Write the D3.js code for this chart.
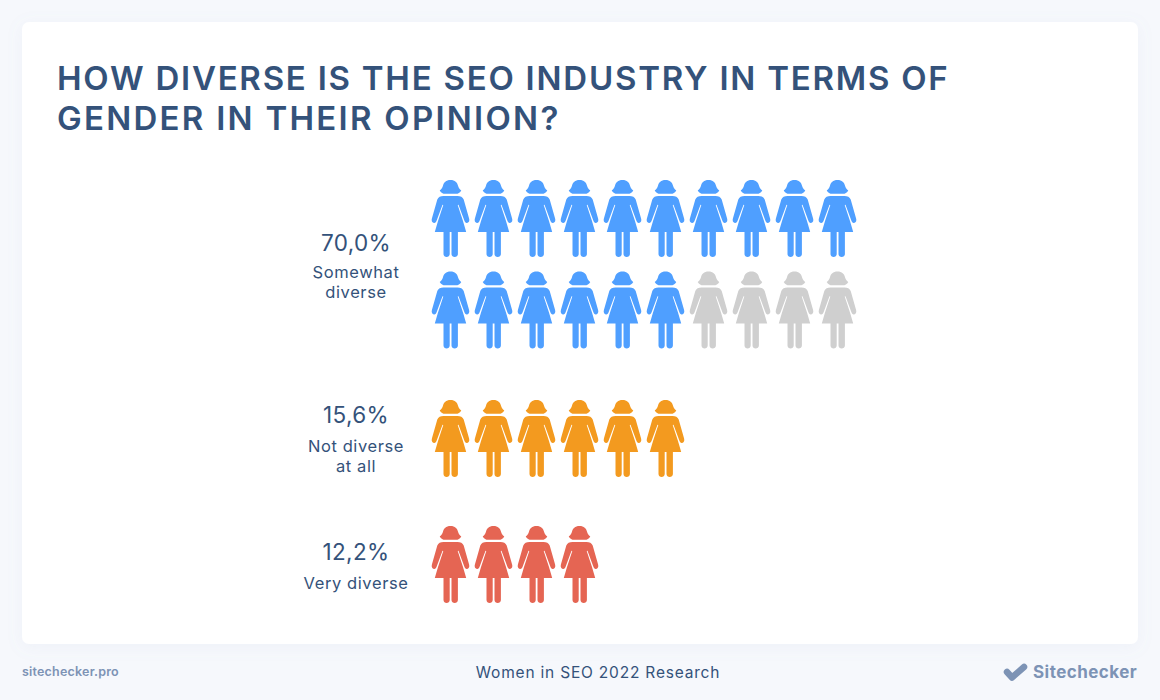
<!DOCTYPE html>
<html>
<head>
<meta charset="utf-8">
<script src="https://cdn.jsdelivr.net/npm/d3@7"></script>
<style>
	html, body { margin: 0; padding: 0; background: #f6f8fc; }
	svg { display: block; font-family: Inter, "Noto Sans", sans-serif; }
	.label { fill: #34527a; text-anchor: middle; }
</style>
</head>
<body>
<svg id="chart" width="1160" height="700"></svg>
<script>
(function () {
	//VARIABLE DECLARATION
	var svg, groups, iconPath, x, icons;
	//VARIABLE INSTANTIATION
	groups = [
		{ value: "70,0%", lines: ["Somewhat", "diverse"], filled: 16, total: 20, color: "#4f9fff", top: 180, valueY: 251, lineY: 278 },
		{ value: "15,6%", lines: ["Not diverse", "at all"], filled: 6, total: 6, color: "#f39a1f", top: 400, valueY: 423, lineY: 452 },
		{ value: "12,2%", lines: ["Very diverse"], filled: 4, total: 4, color: "#e56553", top: 526, valueY: 560, lineY: 589 }
	];
	// woman glyph, origin at top centre of the hat
	iconPath = "M0,0 C4.5,0 6.8,2.5 7.6,6 C8.2,8.4 9.6,9.4 10.8,10.4 C9.5,12.6 7.5,13.8 5.5,13.8 L-5.5,13.8 C-7.5,13.8 -9.5,12.6 -10.8,10.4 " +
		"C-9.6,9.4 -8.2,8.4 -7.6,6 C-6.8,2.5 -4.5,0 0,0 Z " +
		"M-7,16 L7,16 C10,16 12.2,17 13.2,19.5 L18.6,38.5 C19.3,41 18.2,42.6 16.6,42.9 C15.2,43.1 14.3,42.2 13.9,40.8 L8,24.8 " +
		"L7.2,25.1 L12.5,41 L15.7,52 L7.4,52 L7.4,74 C7.4,78 1,78 1,74 L1,52 L-0.8,52 L-0.8,74 C-0.8,78 -7,78 -7,74 L-7,52 L-15.7,52 " +
		"L-12.5,41 L-7.2,25.1 L-8,24.8 L-13.9,40.8 C-14.3,42.2 -15.2,43.1 -16.6,42.9 C-18.2,42.6 -19.3,41 -18.6,38.5 " +
		"L-13.2,19.5 C-12.2,17 -10,16 -7,16 Z";

	svg = d3.select("#chart");
	x = d3.scalePoint().domain(d3.range(10)).range([450.5, 837.5]);

	drawCard();
	drawTitle();
	drawGroups();
	drawFooter();

	function drawCard() {
		var defs = svg.append("defs");
		var f = defs.append("filter").attr("id", "soft").attr("x", "-5%").attr("y", "-5%").attr("width", "110%").attr("height", "110%");
		f.append("feDropShadow").attr("dx", 0).attr("dy", 3).attr("stdDeviation", 8)
			.attr("flood-color", "#8a9cc0").attr("flood-opacity", 0.08);
		svg.append("rect").attr("x", 22).attr("y", 22).attr("width", 1116).attr("height", 622)
			.attr("rx", 7).attr("fill", "#fff").attr("filter", "url(#soft)");
	}
	function drawTitle() {
		svg.selectAll(".title")
			.data(["HOW DIVERSE IS THE SEO INDUSTRY IN TERMS OF", "GENDER IN THEIR OPINION?"]).enter()
			.append("text")
			.attr("class", "title")
			.attr("x", 57)
			.attr("y", function (d, i) { return 90 + 40 * i })
			.attr("fill", "#34527a")
			.attr("font-size", 33)
			.attr("font-weight", 600)
			.attr("letter-spacing", function (d, i) { return i ? 2.25 : 1.75 })
			.text(function (d) { return d })
	}
	function drawGroups() {
		groups.forEach(function (g) {
			icons = d3.range(g.total);
			svg.append("g").selectAll("path")
				.data(icons).enter().append("path")
				.attr("d", iconPath)
				.attr("fill", function (d) { return d < g.filled ? g.color : "#cfcfcf" })
				.attr("transform", function (d) {
					return "translate(" + x(d % 10) + "," + (g.top + 91.5 * Math.floor(d / 10)) + ")"
				});
			svg.append("text").attr("class", "label")
				.attr("x", 356).attr("y", g.valueY)
				.attr("font-size", 22.5)
				.attr("letter-spacing", 0.4)
				.text(g.value);
			svg.selectAll(null)
				.data(g.lines).enter().append("text")
				.attr("class", "label")
				.attr("x", 356)
				.attr("y", function (d, i) { return g.lineY + 20 * i })
				.attr("font-size", 16.5)
				.attr("letter-spacing", 0.6)
				.text(function (d) { return d });
		})
	}
	function drawFooter() {
		svg.append("text").attr("x", 22).attr("y", 676)
			.attr("font-size", 12.5).attr("font-weight", 600).attr("fill", "#7d93b5")
			.attr("letter-spacing", 0.2)
			.text("sitechecker.pro");
		svg.append("text").attr("x", 598).attr("y", 677.5)
			.attr("text-anchor", "middle").attr("font-size", 15.5).attr("fill", "#34527a")
			.attr("letter-spacing", 0.8)
			.text("Women in SEO 2022 Research");
		svg.append("path")
			.attr("d", "M1007,672 L1012,677.5 L1024,667")
			.attr("fill", "none").attr("stroke", "#7d93b5").attr("stroke-width", 6.5)
			.attr("stroke-linecap", "round").attr("stroke-linejoin", "round");
		svg.append("text").attr("x", 1033).attr("y", 678)
			.attr("font-size", 17).attr("font-weight", 700).attr("fill", "#7d93b5")
			.attr("letter-spacing", 0.45)
			.text("Sitechecker");
	}
})();
</script>
</body>
</html>
